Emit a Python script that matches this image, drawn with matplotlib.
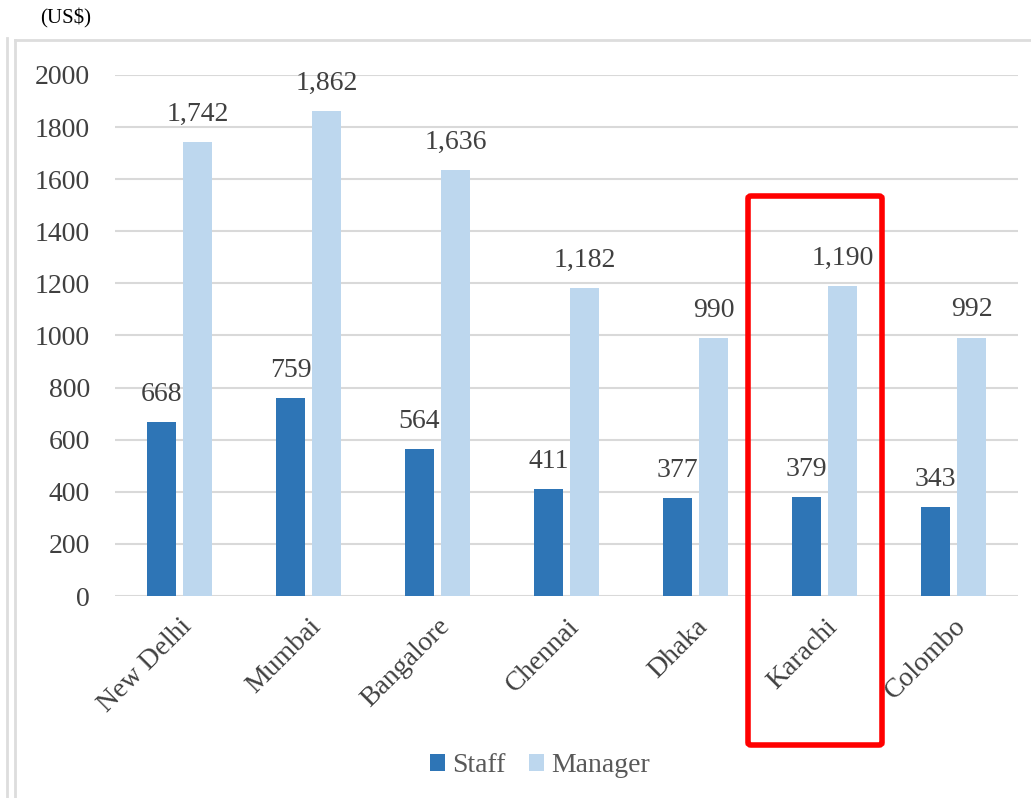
import numpy as np
import matplotlib.pyplot as plt
from matplotlib.patches import FancyBboxPatch
from matplotlib.lines import Line2D

cities = ['New Delhi', 'Mumbai', 'Bangalore', 'Chennai', 'Dhaka', 'Karachi', 'Colombo']
staff = [668, 759, 564, 411, 377, 379, 343]
manager = [1742, 1862, 1636, 1182, 990, 1190, 992]

serif = ['Liberation Serif', 'DejaVu Serif']
plt.rcParams['font.family'] = serif
text_col = '#404040'

W, H = 1031, 798
fig = plt.figure(figsize=(W / 100, H / 100), dpi=100)
ax = fig.add_axes([115 / W, 1 - 596 / H, (1018 - 115) / W, (596 - 75) / H])

x = np.arange(len(cities))
bw = 0.232
gap = 0.047
off = (bw + gap) / 2
b1 = ax.bar(x - off, staff, bw, color='#2E75B6', label='Staff', zorder=3)
b2 = ax.bar(x + off, manager, bw, color='#BDD7EE', label='Manager', zorder=3)

# value labels above bars
for bars, vals in [(b1, staff), (b2, manager)]:
    for rect, v in zip(bars, vals):
        ax.text(rect.get_x() + rect.get_width() / 2, v + 58, f'{v:,}',
                ha='center', va='bottom', fontsize=20, color=text_col, clip_on=False)

ax.set_xlim(-0.5, len(cities) - 0.5)
ax.set_ylim(0, 2000)
ax.set_yticks(range(0, 2001, 200))
ax.tick_params(axis='y', length=0, pad=18, labelsize=20, labelcolor=text_col)
ax.tick_params(axis='x', length=0, pad=13, labelsize=20, labelcolor=text_col)
ax.set_xticks(x)
ax.set_xticklabels(cities, rotation=45, ha='right', rotation_mode='anchor')
ax.grid(axis='y', color='#D9D9D9', linewidth=1.5, zorder=0)
for s in ax.spines.values():
    s.set_visible(False)

leg = fig.legend(loc='center', bbox_to_anchor=(540 / W, 1 - 766 / H), ncol=2, frameon=False,
                 prop={'family': serif, 'size': 20},
                 handlelength=0.55, handleheight=0.55, handletextpad=0.25,
                 columnspacing=0.85)
for t in leg.get_texts():
    t.set_color('#595959')

fig.text(40 / W, 1 - 18 / H, '(US$)', fontsize=15, family=serif,
         color='black', va='center', ha='left')

# outer frame lines
fig.add_artist(Line2D([15 / W, 15 / W], [1 - 40 / H, 0], color='#DDDDDD', lw=2))
fig.add_artist(Line2D([15 / W, 1], [1 - 40 / H, 1 - 40 / H], color='#DDDDDD', lw=2))
fig.add_artist(Line2D([7 / W, 7 / W], [1 - 38 / H, 0], color='#DDDDDD', lw=2))

# highlight box around Karachi
fig.add_artist(FancyBboxPatch((748 / W, 1 - 745 / H), 134 / W, 549 / H,
                              boxstyle='round,pad=0,rounding_size=0.003',
                              transform=fig.transFigure, fill=False,
                              edgecolor='#FF0000', linewidth=4))

fig.savefig('out.png', dpi=100)
